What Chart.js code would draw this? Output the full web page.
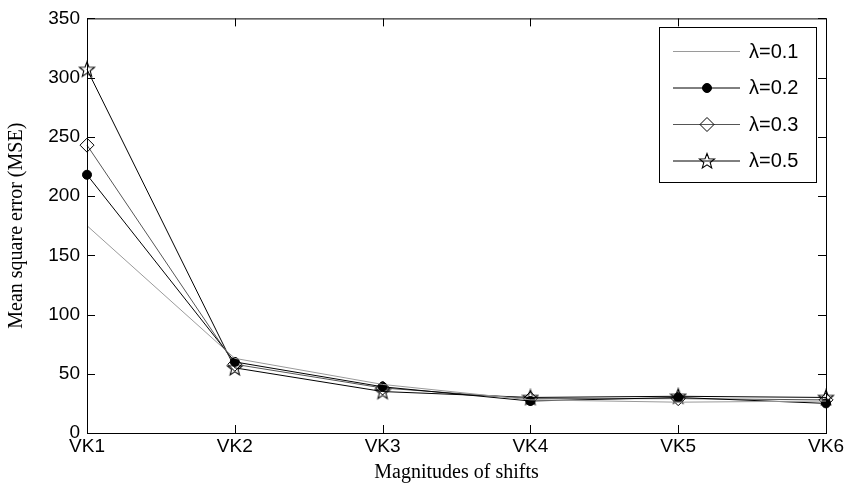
<!DOCTYPE html>
<html>
<head>
<meta charset="utf-8">
<script src="https://cdn.jsdelivr.net/npm/chart.js@4/dist/chart.umd.min.js"></script>
<style>
  html, body { margin: 0; padding: 0; background: #fff; }
  #wrap { width: 854px; height: 488px; }
</style>
</head>
<body>
<div id="wrap"><canvas id="mseChart" width="854" height="488"></canvas></div>
<script>
// --- Data ---
const categories = ['VK1', 'VK2', 'VK3', 'VK4', 'VK5', 'VK6'];
const seriesLabels = ['\u03bb=0.1', '\u03bb=0.2', '\u03bb=0.3', '\u03bb=0.5'];
const mse01 = [175, 63, 41, 28, 26, 27];
const mse02 = [218, 60, 39, 27, 30, 25];
const mse03 = [243, 58, 38, 29, 29, 28];
const mse05 = [307, 55, 35, 30, 31, 30];
const yTicks = [0, 50, 100, 150, 200, 250, 300, 350];

// open five-point star marker (Chart.js 'star' is an asterisk)
function makeStar(size) {
    const c = document.createElement('canvas');
    c.width = size; c.height = size;
    const g = c.getContext('2d');
    const cx = size / 2, cy = size / 2 + 0.5;
    const ro = size / 2 - 1, ri = ro * 0.42;
    g.beginPath();
    for (let i = 0; i < 10; i++) {
        const r = i % 2 === 0 ? ro : ri;
        const a = -Math.PI / 2 + i * Math.PI / 5;
        const px = cx + r * Math.cos(a), py = cy + r * Math.sin(a);
        if (i === 0) g.moveTo(px, py); else g.lineTo(px, py);
    }
    g.closePath();
    g.strokeStyle = '#000';
    g.lineWidth = 1.1;
    g.stroke();
    return c;
}
const starImg = makeStar(18);

// MATLAB-style frame with inward ticks
const framePlugin = {
    id: 'frame',
    afterDraw(chart) {
        const { ctx, chartArea: a, scales } = chart;
        ctx.save();
        ctx.strokeStyle = '#000';
        ctx.lineWidth = 1;
        ctx.strokeRect(a.left + 0.5, a.top + 0.5, a.right - a.left, a.bottom - a.top);
        const len = 8;
        ctx.beginPath();
        scales.x.ticks.forEach((t, i) => {
            const x = Math.round(scales.x.getPixelForTick(i)) + 0.5;
            ctx.moveTo(x, a.bottom); ctx.lineTo(x, a.bottom - len);
            ctx.moveTo(x, a.top); ctx.lineTo(x, a.top + len);
        });
        scales.y.ticks.forEach((t) => {
            const y = Math.round(scales.y.getPixelForValue(t.value)) + 0.5;
            ctx.moveTo(a.left, y); ctx.lineTo(a.left + len, y);
            ctx.moveTo(a.right, y); ctx.lineTo(a.right - len, y);
        });
        ctx.stroke();
        ctx.restore();
    }
};

// legend box inside the plot, top right
const legendPlugin = {
    id: 'boxLegend',
    afterDraw(chart) {
        const { ctx } = chart;
        const bx = 659, by = 27, bw = 157, bh = 155;
        ctx.save();
        ctx.fillStyle = '#fff';
        ctx.fillRect(bx, by, bw, bh);
        ctx.strokeStyle = '#000';
        ctx.lineWidth = 1;
        ctx.strokeRect(bx + 0.5, by + 0.5, bw, bh);
        chart.data.datasets.forEach((ds, i) => {
            const y = by + 24 + i * 36.5;
            ctx.strokeStyle = ds.borderColor;
            ctx.lineWidth = ds.borderWidth;
            ctx.beginPath();
            ctx.moveTo(bx + 14, y + 0.5);
            ctx.lineTo(bx + 81, y + 0.5);
            ctx.stroke();
            if (ds.pointRadius > 0) {
                ctx.strokeStyle = ds.pointBorderColor;
                ctx.fillStyle = ds.pointBackgroundColor;
                ctx.lineWidth = 1;
                Chart.helpers.drawPoint(ctx, {
                    pointStyle: ds.pointStyle, radius: ds.pointRadius,
                    rotation: 0, borderWidth: 1
                }, bx + 48, y + 0.5);
            }
            ctx.fillStyle = '#000';
            ctx.font = '20px "Liberation Sans", Arial, sans-serif';
            ctx.textBaseline = 'middle';
            ctx.textAlign = 'left';
            ctx.fillText(ds.label, bx + 90, y + 1);
        });
        ctx.restore();
    }
};

const tickFont = { family: '"Liberation Sans", Arial, sans-serif', size: 19 };
const titleFont = { family: '"Liberation Serif", "Times New Roman", serif', size: 20 };

const ctx = document.getElementById('mseChart').getContext('2d');
const myChart = new Chart(ctx, {
    type: 'line',
    data: {
        labels: categories,
        datasets: [
            {
                label: seriesLabels[0],
                data: mse01,
                borderColor: '#9a9a9a',
                borderWidth: 1,
                pointRadius: 0,
                pointStyle: false,
                pointBorderColor: '#9a9a9a',
                pointBackgroundColor: 'transparent',
                clip: false
            },
            {
                label: seriesLabels[1],
                data: mse02,
                borderColor: '#000',
                borderWidth: 1,
                pointStyle: 'circle',
                pointRadius: 4.5,
                pointBorderColor: '#000',
                pointBackgroundColor: '#000',
                clip: false
            },
            {
                label: seriesLabels[2],
                data: mse03,
                borderColor: '#555',
                borderWidth: 1,
                pointStyle: 'rectRot',
                pointRadius: 7,
                pointBorderColor: '#000',
                pointBackgroundColor: 'transparent',
                clip: false
            },
            {
                label: seriesLabels[3],
                data: mse05,
                borderColor: '#000',
                borderWidth: 1,
                pointStyle: starImg,
                pointRadius: 8,
                pointBorderColor: '#000',
                pointBackgroundColor: 'transparent',
                clip: false
            }
        ]
    },
    options: {
        responsive: false,
        animation: false,
        devicePixelRatio: 1,
        layout: { padding: { top: 17, right: 28, left: 0, bottom: 0 } },
        plugins: {
            legend: { display: false },
            tooltip: { enabled: false }
        },
        scales: {
            x: {
                offset: false,
                grid: { display: false, drawTicks: false },
                border: { display: false },
                ticks: {
                    color: '#000',
                    padding: 2,
                    maxRotation: 0,
                    autoSkip: false,
                    font: tickFont
                },
                title: {
                    display: true,
                    text: 'Magnitudes of shifts',
                    color: '#000',
                    padding: { top: 4, bottom: 3 },
                    font: titleFont
                },
                afterFit(scale) { scale.height = 55; }
            },
            y: {
                min: 0,
                max: 350,
                grid: { display: false, drawTicks: false },
                border: { display: false },
                afterBuildTicks(scale) { scale.ticks = yTicks.map(v => ({ value: v })); },
                ticks: {
                    color: '#000',
                    padding: 7,
                    font: tickFont
                },
                title: {
                    display: true,
                    text: 'Mean square error (MSE)',
                    color: '#000',
                    padding: { top: 5, bottom: 0 },
                    font: titleFont
                },
                afterFit(scale) { scale.width = 87; }
            }
        }
    },
    plugins: [framePlugin, legendPlugin]
});
</script>
</body>
</html>
